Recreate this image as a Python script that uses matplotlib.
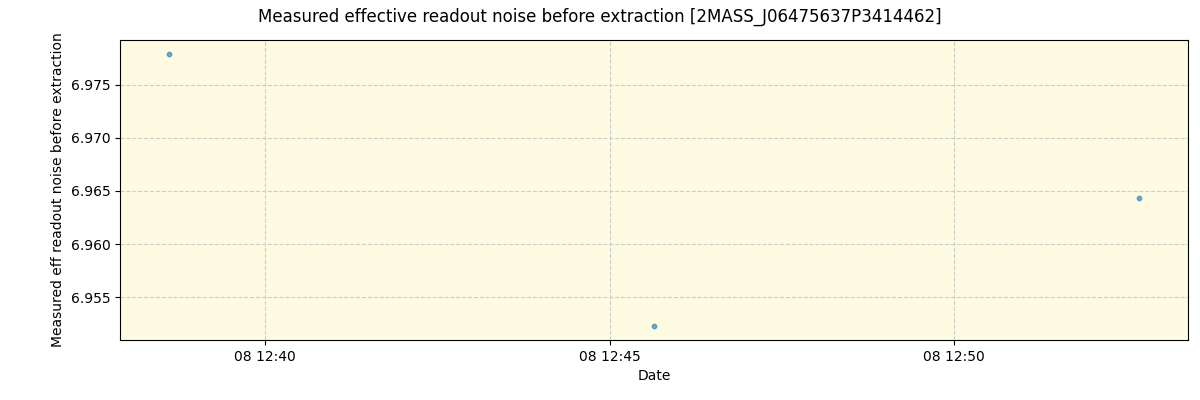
import matplotlib
matplotlib.use("Agg")
import matplotlib.pyplot as plt
import matplotlib.dates as mdates
import pandas as pd

# data
TIMES = ["2023-01-08 12:38:35.7", "2023-01-08 12:45:38.6", "2023-01-08 12:52:41.6"]
NOISE = [6.97792, 6.95226, 6.96434]

times = pd.to_datetime(TIMES)

fig = plt.figure(figsize=(12, 4), dpi=100)
ax = fig.add_axes([0.1, 0.15, 0.89, 0.75])
ax.set_facecolor("#fdfbe2")

ax.scatter(times, NOISE, s=10, color="#1f77b4", alpha=0.6, zorder=3)

ax.xaxis.set_major_locator(mdates.MinuteLocator(byminute=range(0, 60, 5)))
ax.xaxis.set_major_formatter(mdates.DateFormatter("%d %H:%M"))
ax.grid(True, linestyle="--", color="#cccccc", linewidth=0.8)

ax.set_xlabel("Date")
ax.set_ylabel("Measured eff readout noise before extraction")
fig.suptitle("Measured effective readout noise before extraction [2MASS_J06475637P3414462]", fontsize=12, y=0.98)

fig.savefig("out.png")
